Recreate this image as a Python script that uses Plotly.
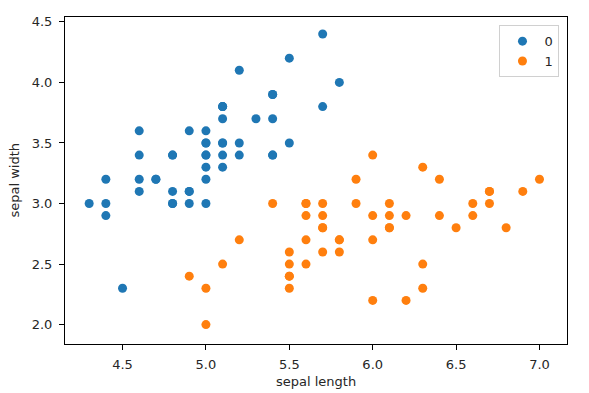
import plotly.graph_objects as go

setosa_x = [5.1,4.9,4.7,4.6,5.0,5.4,4.6,5.0,4.4,4.9,5.4,4.8,4.8,4.3,5.8,5.7,5.4,5.1,5.7,5.1,
            5.4,5.1,4.6,5.1,4.8,5.0,5.0,5.2,5.2,4.7,4.8,5.4,5.2,5.5,4.9,5.0,5.5,4.9,4.4,5.1,
            5.0,4.5,4.4,5.0,5.1,4.8,5.1,4.6,5.3,5.0]
setosa_y = [3.5,3.0,3.2,3.1,3.6,3.9,3.4,3.4,2.9,3.1,3.7,3.4,3.0,3.0,4.0,4.4,3.9,3.5,3.8,3.8,
            3.4,3.7,3.6,3.3,3.4,3.0,3.4,3.5,3.4,3.2,3.1,3.4,4.1,4.2,3.1,3.2,3.5,3.6,3.0,3.4,
            3.5,2.3,3.2,3.5,3.8,3.0,3.8,3.2,3.7,3.3]
versi_x = [7.0,6.4,6.9,5.5,6.5,5.7,6.3,4.9,6.6,5.2,5.0,5.9,6.0,6.1,5.6,6.7,5.6,5.8,6.2,5.6,
           5.9,6.1,6.3,6.1,6.4,6.6,6.8,6.7,6.0,5.7,5.5,5.5,5.8,6.0,5.4,6.0,6.7,6.3,5.6,5.5,
           5.5,6.1,5.8,5.0,5.6,5.7,5.7,6.2,5.1,5.7]
versi_y = [3.2,3.2,3.1,2.3,2.8,2.8,3.3,2.4,2.9,2.7,2.0,3.0,2.2,2.9,2.9,3.1,3.0,2.7,2.2,2.5,
           3.2,2.8,2.5,2.8,2.9,3.0,2.8,3.0,2.9,2.6,2.4,2.4,2.7,2.7,3.0,3.4,3.1,2.3,3.0,2.5,
           2.6,3.0,2.6,2.3,2.7,3.0,2.9,2.9,2.5,2.8]
labels = ["0", "1"]
colors = ["#1f77b4", "#ff7f0e"]
x_ticks = [4.5, 5.0, 5.5, 6.0, 6.5, 7.0]
y_ticks = [2.0, 2.5, 3.0, 3.5, 4.0, 4.5]

fig = go.Figure()
for xs, ys, lab, c in [(setosa_x, setosa_y, labels[0], colors[0]), (versi_x, versi_y, labels[1], colors[1])]:
    fig.add_trace(go.Scatter(x=xs, y=ys, mode="markers", name=lab,
                             marker=dict(color=c, size=9, line=dict(width=0))))

axis_common = dict(showline=True, linecolor="black", linewidth=1, mirror=True, automargin=False,
                   ticks="outside", ticklen=5, tickcolor="black", tickwidth=1, showgrid=False, zeroline=False,
                   tickfont=dict(size=13, color="#262626"))
fig.update_layout(
    width=581, height=385,
    margin=dict(l=57, r=22, t=9, b=49),
    paper_bgcolor="white", plot_bgcolor="white",
    font=dict(family="DejaVu Sans", size=13, color="#262626"),
    xaxis=dict(range=[4.155, 7.165], tickvals=x_ticks, ticktext=[f"{v:.1f}" for v in x_ticks],
               ticklabelstandoff=3, **axis_common),
    yaxis=dict(range=[1.84, 4.54], tickvals=y_ticks, ticktext=[f"{v:.1f}" for v in y_ticks],
               ticklabelstandoff=4, **axis_common),
    legend=dict(x=0.985, y=0.975, xanchor="right", yanchor="top", bgcolor="rgba(255,255,255,0.8)",
                bordercolor="#d0d0d0", borderwidth=1, font=dict(size=13), itemwidth=34, tracegroupgap=0),
    showlegend=True,
    annotations=[
        dict(text="sepal length", xref="paper", yref="paper", x=0.5, y=0, xanchor="center", yanchor="middle",
             yshift=-37, showarrow=False, font=dict(size=13, color="#262626")),
        dict(text="sepal width", xref="paper", yref="paper", x=0, y=0.5, xanchor="center", yanchor="middle",
             xshift=-51, textangle=-90, showarrow=False, font=dict(size=13, color="#262626")),
    ],
)
fig.write_html("out.html")
